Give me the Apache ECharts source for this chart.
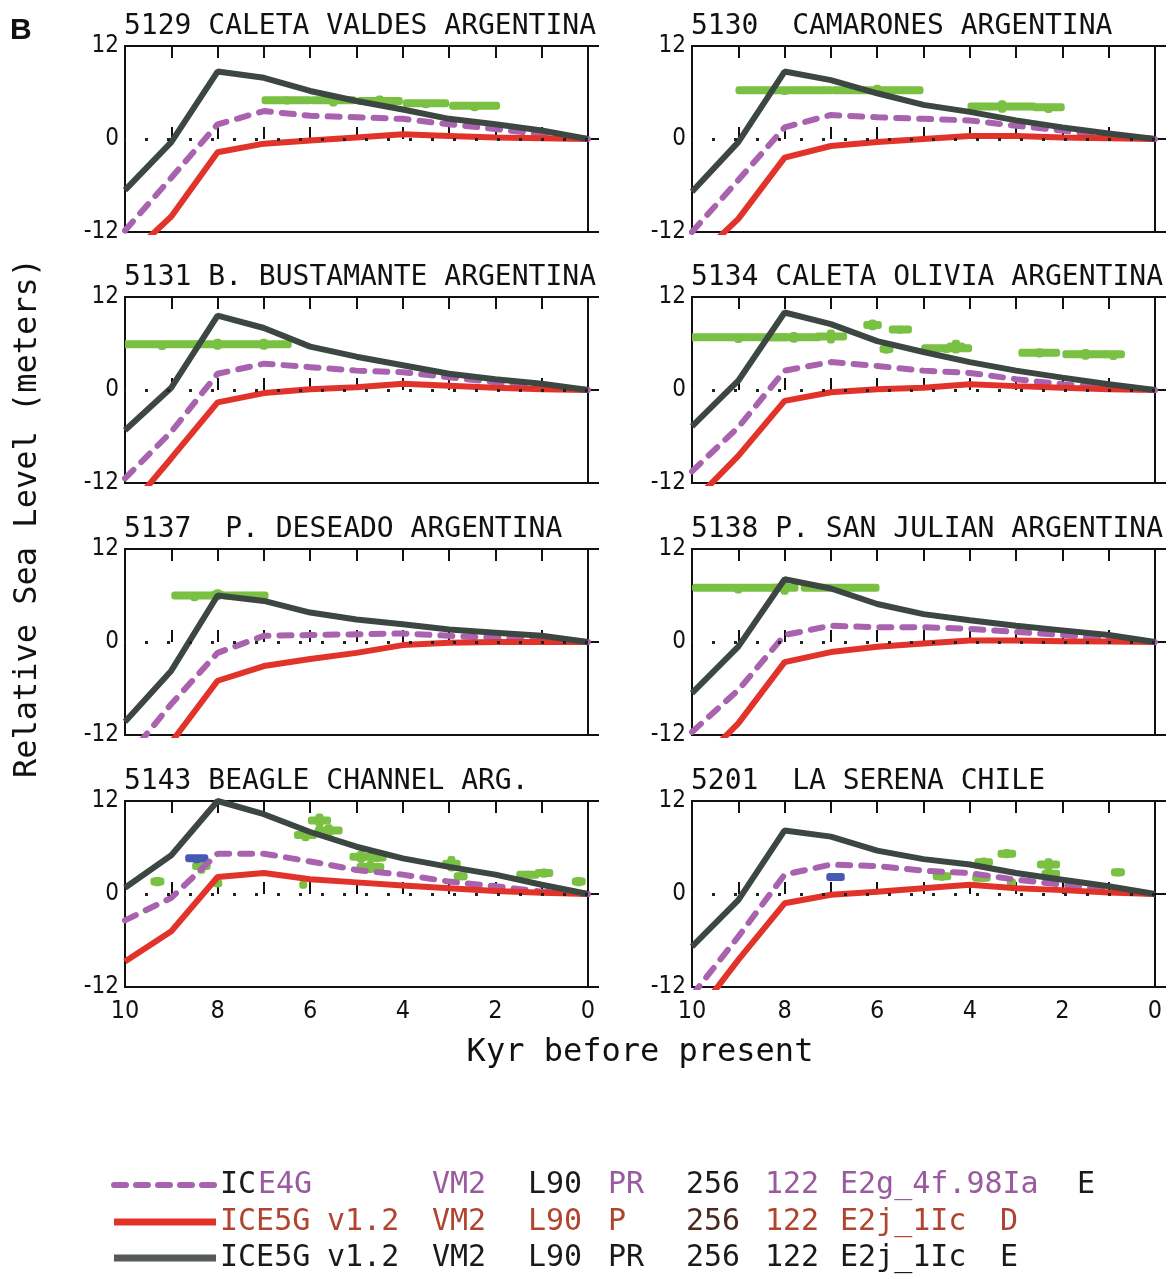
<!DOCTYPE html>
<html>
<head>
<meta charset="utf-8">
<title>Relative Sea Level - South America</title>
<script src="https://cdn.jsdelivr.net/npm/echarts@6/dist/echarts.min.js"></script>
<style>
  html, body { margin: 0; padding: 0; background: #fff; }
  #chart { width: 1169px; height: 1279px; }
</style>
</head>
<body>
<div id="chart"></div>
<script>
  // ages in kyr BP, shared by all model curves
  const ages = [10, 9, 8, 7, 6, 5, 4, 3, 2, 1, 0];

  const stations = [
    '5129 CALETA VALDES ARGENTINA',
    '5130  CAMARONES ARGENTINA',
    '5131 B. BUSTAMANTE ARGENTINA',
    '5134 CALETA OLIVIA ARGENTINA',
    '5137  P. DESEADO ARGENTINA',
    '5138 P. SAN JULIAN ARGENTINA',
    '5143 BEAGLE CHANNEL ARG.',
    '5201  LA SERENA CHILE',
  ];

  // ICE4G VM2 L90 PR (dashed purple)
  const ice4g = [
    [-11.8, -5.0, 1.9, 3.6, 3.0, 2.8, 2.6, 1.9, 1.3, 0.6, 0],
    [-12.0, -5.3, 1.5, 3.1, 2.8, 2.6, 2.4, 1.7, 1.1, 0.4, 0],
    [-11.4, -5.4, 2.1, 3.4, 2.95, 2.5, 2.3, 1.65, 1.0, 0.35, 0],
    [-10.5, -4.8, 2.5, 3.6, 3.1, 2.5, 2.2, 1.4, 0.75, 0.3, 0],
    [-15.3, -8.0, -1.4, 0.8, 0.9, 1.0, 1.1, 0.8, 0.55, 0.2, 0],
    [-11.6, -6.2, 0.9, 2.1, 1.9, 1.9, 1.7, 1.3, 0.9, 0.4, 0],
    [-3.4, -0.5, 5.2, 5.2, 4.2, 3.1, 2.5, 1.6, 1.0, 0.3, 0],
    [-13.1, -5.5, 2.5, 3.8, 3.6, 3.0, 2.7, 1.85, 1.2, 0.5, 0],
  ];

  // ICE5G v1.2 VM2 L90 P (red)
  const ice5gP = [
    [-15.6, -10.0, -1.7, -0.6, -0.2, 0.2, 0.6, 0.4, 0.2, 0.1, 0],
    [-16.0, -10.3, -2.4, -0.9, -0.4, 0, 0.4, 0.4, 0.2, 0.1, 0],
    [-15.9, -8.8, -1.6, -0.4, 0.1, 0.35, 0.8, 0.55, 0.3, 0.1, 0],
    [-14.6, -8.5, -1.4, -0.3, 0.1, 0.3, 0.75, 0.5, 0.3, 0.1, 0],
    [-20.5, -12.95, -5.0, -3.1, -2.2, -1.4, -0.4, -0.1, 0, 0, 0],
    [-16.5, -10.5, -2.6, -1.3, -0.6, -0.2, 0.2, 0.2, 0.1, 0.05, 0],
    [-8.7, -4.8, 2.2, 2.7, 1.9, 1.5, 1.1, 0.75, 0.4, 0.15, 0],
    [-16.3, -8.5, -1.2, -0.1, 0.3, 0.75, 1.2, 0.75, 0.5, 0.2, 0],
  ];

  // ICE5G v1.2 VM2 L90 PR (dark grey)
  const ice5gPR = [
    [-6.6, -0.4, 8.7, 7.9, 6.2, 4.9, 3.8, 2.6, 1.9, 1.1, 0],
    [-6.8, -0.4, 8.7, 7.6, 5.9, 4.4, 3.5, 2.4, 1.5, 0.7, 0],
    [-5.2, 0.3, 9.6, 8.0, 5.6, 4.3, 3.2, 2.1, 1.4, 0.8, 0],
    [-4.7, 1.2, 10.0, 8.5, 6.3, 4.9, 3.6, 2.5, 1.6, 0.75, 0],
    [-10.3, -3.7, 6.0, 5.3, 3.8, 2.9, 2.3, 1.6, 1.2, 0.8, 0],
    [-6.6, -0.6, 8.1, 6.9, 4.9, 3.6, 2.8, 2.1, 1.5, 0.9, 0],
    [0.8, 5.0, 12.0, 10.3, 8.0, 6.1, 4.6, 3.5, 2.5, 1.2, 0],
    [-6.8, -0.8, 8.2, 7.4, 5.6, 4.5, 3.8, 2.7, 1.85, 1.0, 0],
  ];

  // observed sea levels: [age, rsl, age error, rsl error]
  const observations = [
    [[6.5, 5.0, 0.55, 0.5], [5.5, 5.0, 0.5, 0.8], [4.5, 4.9, 0.5, 0.7], [3.5, 4.6, 0.5, 0.4], [2.45, 4.3, 0.55, 0.3]],
    [[8.0, 6.3, 1.06, 0.4], [6.0, 6.3, 1.0, 0.7], [3.3, 4.2, 0.75, 0.8], [2.3, 4.1, 0.35, 0.3]],
    [[9.2, 5.9, 0.9, 0.3], [8.0, 5.9, 0.5, 0.7], [7.0, 5.9, 0.6, 0.7]],
    [[9.0, 6.8, 1.1, 0.3], [7.8, 6.8, 0.6, 0.7], [7.0, 6.9, 0.35, 0.9], [6.1, 8.4, 0.2, 0.7], [5.5, 7.8, 0.25, 0.5],
     [5.8, 5.3, 0.15, 0.4], [4.5, 5.4, 0.55, 0.4], [4.3, 5.6, 0.2, 0.9], [2.5, 4.8, 0.45, 0.6], [1.5, 4.6, 0.5, 0.7],
     [0.9, 4.6, 0.25, 0.3]],
    [[8.5, 6.0, 0.5, 0.3], [8.0, 6.1, 0.15, 0.7], [7.4, 6.0, 0.5, 0.5]],
    [[9.0, 7.0, 1.0, 0.3], [8.0, 7.0, 0.3, 0.9], [6.8, 7.0, 0.85, 0.3]],
    [[9.3, 1.6, 0.15, 0.6], [8.35, 3.6, 0.2, 1.0], [8.0, 1.4, 0.1, 0.5], [6.15, 1.3, 0.05, 0.4], [6.1, 7.6, 0.25, 0.8],
     [5.8, 9.5, 0.25, 0.9], [5.6, 8.2, 0.3, 0.8], [4.9, 4.8, 0.25, 0.8], [4.7, 3.5, 0.3, 0.8], [4.55, 4.7, 0.2, 0.6],
     [2.95, 3.9, 0.2, 1.0], [2.75, 2.3, 0.15, 0.5], [1.3, 2.5, 0.25, 0.5], [0.95, 2.7, 0.2, 0.6], [0.2, 1.6, 0.15, 0.6]],
    [[4.6, 2.3, 0.2, 0.6], [3.7, 4.1, 0.2, 0.6], [3.75, 2.1, 0.2, 0.5], [3.2, 5.2, 0.2, 0.6], [2.3, 3.8, 0.25, 0.8],
     [2.25, 2.6, 0.2, 0.5], [0.8, 2.8, 0.15, 0.5], [3.1, 1.5, 0.1, 0.3]],
  ];

  // the few blue (limiting) observations
  const blueObs = [[], [], [], [], [], [], [[8.45, 4.6, 0.25, 0.4]], [[6.9, 2.2, 0.2, 0.5]]];

  const yTicks = [-12, 0, 12];

  const legendRows = [
    [['IC', '#1a1a1a'], ['E4G', '#9a5aa0'], ['VM2', '#9a5aa0'], ['L90', '#1a1a1a'], ['PR', '#9a5aa0'],
     ['256', '#1a1a1a'], ['122', '#9a5aa0'], ['E2g_4f.98Ia', '#9a5aa0'], ['E', '#1a1a1a']],
    [['ICE5G', '#b0442e'], ['v1.2', '#b0442e'], ['VM2', '#b0442e'], ['L90', '#b0442e'], ['P', '#b0442e'],
     ['256', '#4a2a1e'], ['122', '#b0442e'], ['E2j_1Ic', '#b0442e'], ['D', '#b0442e']],
    [['ICE5G', '#1a1a1a'], ['v1.2', '#1a1a1a'], ['VM2', '#1a1a1a'], ['L90', '#1a1a1a'], ['PR', '#1a1a1a'],
     ['256', '#1a1a1a'], ['122', '#1a1a1a'], ['E2j_1Ic', '#1a1a1a'], ['E', '#1a1a1a']],
  ];

  // layout
  const colLeft = [125, 692];
  const rowTop = [46, 297, 549, 801];
  const plotW = 463;
  const plotH = 186;
  const legendY = [1185, 1222, 1258];
  const legendCols = [
    [220, 258, 432, 528, 608, 686, 765, 840, 1077],
    [220, 327, 432, 528, 608, 686, 765, 840, 1000],
    [220, 327, 432, 528, 608, 686, 765, 840, 1000],
  ];

  const MONO = "'DejaVu Sans Mono', 'Liberation Mono', monospace";
  const NARROW = "'Liberation Sans Narrow', 'DejaVu Sans Condensed', 'Liberation Sans', sans-serif";
  const C_PURPLE = '#a862ae';
  const C_RED = '#e2332b';
  const C_GREY = '#3d4742';
  const C_GREEN = '#79c043';
  const C_BLUE = '#4659b5';

  const chart = echarts.init(document.getElementById('chart'));

  function renderObs(params, api) {
    const age = api.value(0);
    const rsl = api.value(1);
    const dAge = api.value(2);
    const dRsl = api.value(3);
    const a = api.coord([age + dAge, rsl]);
    const b = api.coord([age - dAge, rsl]);
    const t = api.coord([age, rsl + dRsl]);
    const u = api.coord([age, rsl - dRsl]);
    const style = { fill: api.visual('color') };
    const x0 = Math.min(a[0], b[0]);
    const y0 = Math.min(t[1], u[1]);
    return {
      type: 'group',
      children: [
        { type: 'rect', shape: { x: x0, y: a[1] - 4, width: Math.abs(b[0] - a[0]), height: 8, r: 3 }, style },
        { type: 'rect', shape: { x: t[0] - 4, y: y0, width: 8, height: Math.max(8, Math.abs(u[1] - t[1])), r: 3 }, style },
      ],
    };
  }

  const grids = [];
  const xAxes = [];
  const yAxes = [];
  const titles = [];
  const series = [];

  stations.forEach((name, i) => {
    const row = Math.floor(i / 2);
    const col = i % 2;
    grids.push({
      left: colLeft[col], top: rowTop[row], width: plotW, height: plotH,
      show: true, borderColor: '#111', borderWidth: 2, backgroundColor: 'transparent',
    });

    const tickStyle = { inside: true, length: 12, lineStyle: { color: '#111', width: 2 } };
    xAxes.push({
      gridIndex: i, type: 'value', min: 0, max: 10, interval: 1, inverse: true,
      axisLine: { show: false }, axisTick: tickStyle, splitLine: { show: false },
      axisLabel: {
        show: row === 3, margin: 12, fontSize: 25, color: '#111', fontFamily: NARROW,
        formatter: (v) => (v % 2 === 0 ? String(v) : ''),
      },
    });
    xAxes.push({
      gridIndex: i, type: 'value', min: 0, max: 10, interval: 1, inverse: true, position: 'top',
      axisLine: { show: false }, axisTick: tickStyle, splitLine: { show: false }, axisLabel: { show: false },
    });
    yAxes.push({
      gridIndex: i, type: 'value', min: yTicks[0], max: yTicks[2], interval: 12,
      axisLine: { show: false }, splitLine: { show: false },
      axisTick: { inside: true, length: 11, lineStyle: { color: '#111', width: 2 } },
      axisLabel: { margin: 6, fontSize: 24, color: '#111', fontFamily: NARROW },
    });

    titles.push({
      text: name, left: colLeft[col] - 1, top: rowTop[row] - 33, padding: 0,
      textStyle: { fontFamily: MONO, fontSize: 28, fontWeight: 'normal', color: '#111' },
    });

    const xi = i * 2;
    series.push({
      type: 'custom', xAxisIndex: xi, yAxisIndex: i, clip: true, z: 1,
      itemStyle: { color: C_GREEN }, renderItem: renderObs, data: observations[i],
      markLine: {
        silent: true, symbol: 'none', label: { show: false }, animation: false,
        lineStyle: { type: [3, 19], color: '#222', width: 3 },
        data: [{ yAxis: 0 }],
      },
    });
    if (blueObs[i].length) {
      series.push({
        type: 'custom', xAxisIndex: xi, yAxisIndex: i, clip: true, z: 1,
        itemStyle: { color: C_BLUE }, renderItem: renderObs, data: blueObs[i],
      });
    }
    series.push({
      name: 'ICE4G', type: 'line', xAxisIndex: xi, yAxisIndex: i, z: 2,
      symbol: 'none', color: C_PURPLE,
      lineStyle: { width: 6, type: [12, 11], cap: 'round', color: C_PURPLE },
      data: ages.map((a, j) => [a, ice4g[i][j]]),
    });
    series.push({
      name: 'ICE5G P', type: 'line', xAxisIndex: xi, yAxisIndex: i, z: 3,
      symbol: 'none', color: C_RED, lineStyle: { width: 6, color: C_RED },
      data: ages.map((a, j) => [a, ice5gP[i][j]]),
    });
    series.push({
      name: 'ICE5G PR', type: 'line', xAxisIndex: xi, yAxisIndex: i, z: 4,
      symbol: 'none', color: C_GREY, lineStyle: { width: 6, color: C_GREY },
      data: ages.map((a, j) => [a, ice5gPR[i][j]]),
    });
  });

  function txt(x, y, text, font, color, extra) {
    return Object.assign({
      type: 'text', x, y, silent: true,
      style: {
        text, font, fill: color,
        align: 'left', textAlign: 'left', verticalAlign: 'middle', textVerticalAlign: 'middle',
      },
    }, extra || {});
  }

  const graphics = [
    txt(10, 31, 'B', "bold 30px 'Liberation Sans', Arial, sans-serif", '#111'),
    {
      type: 'text', x: 28, y: 518, rotation: Math.PI / 2, silent: true,
      style: {
        text: 'Relative Sea Level (meters)', font: `32px ${MONO}`, fill: '#111',
        align: 'center', textAlign: 'center', verticalAlign: 'middle', textVerticalAlign: 'middle',
      },
    },
    {
      type: 'text', x: 640, y: 1053, silent: true,
      style: {
        text: 'Kyr before present', font: `32px ${MONO}`, fill: '#111',
        align: 'center', textAlign: 'center', verticalAlign: 'middle', textVerticalAlign: 'middle',
      },
    },
  ];

  const legendLines = [
    { stroke: C_PURPLE, lineWidth: 6, lineDash: [12, 10], lineCap: 'round' },
    { stroke: C_RED, lineWidth: 7 },
    { stroke: '#555a57', lineWidth: 7 },
  ];
  legendRows.forEach((tokens, r) => {
    graphics.push({
      type: 'line', silent: true,
      shape: { x1: 114, y1: legendY[r], x2: 216, y2: legendY[r] },
      style: legendLines[r],
    });
    tokens.forEach(([t, color], k) => {
      graphics.push(txt(legendCols[r][k], legendY[r], t, `30px ${MONO}`, color));
    });
  });

  chart.setOption({
    animation: false,
    backgroundColor: '#fff',
    title: titles,
    grid: grids,
    xAxis: xAxes,
    yAxis: yAxes,
    series,
    graphic: graphics,
  });

  window.addEventListener('resize', () => chart.resize());
</script>
</body>
</html>
